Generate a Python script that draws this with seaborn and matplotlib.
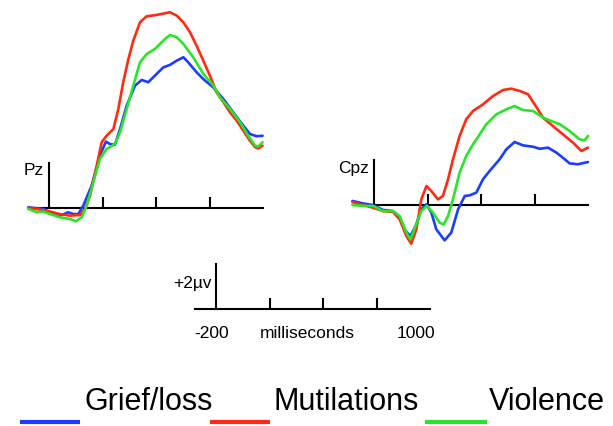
import numpy as np
import pandas as pd
import matplotlib
matplotlib.use("Agg")
import matplotlib.pyplot as plt
import seaborn as sns
from matplotlib.lines import Line2D

# ---------------- data ----------------
conditions = ["Grief/loss", "Mutilations", "Violence"]
colors = ["#1c3cff", "#ff2a10", "#2ae42a"]

# Pz (time in ms, amplitude in microvolts)
pz_grief_t = [-97, -26, 20, 51, 90, 114, 137, 160, 199, 238, 266, 285, 308, 332, 363, 402, 433, 464, 503, 534, 565, 597, 628, 651, 690, 721, 768, 815, 861, 908, 939, 970, 998]
pz_grief_v = [0.03, -0.04, -0.27, -0.34, -0.19, -0.27, -0.27, 0.10, 0.99, 2.33, 2.95, 2.84, 2.81, 3.51, 4.55, 5.44, 5.69, 5.59, 5.96, 6.25, 6.36, 6.55, 6.70, 6.47, 6.03, 5.73, 5.36, 4.84, 4.25, 3.66, 3.29, 3.19, 3.21]
pz_mutil_t = [-97, -42, 5, 51, 98, 145, 168, 192, 223, 246, 269, 301, 324, 347, 371, 394, 425, 456, 503, 534, 565, 597, 628, 659, 690, 721, 752, 783, 815, 846, 877, 908, 939, 963, 978, 998]
pz_mutil_v = [0.0, -0.07, -0.16, -0.27, -0.34, -0.31, -0.04, 0.55, 1.88, 2.92, 3.21, 3.51, 4.40, 5.59, 6.62, 7.44, 8.25, 8.52, 8.58, 8.64, 8.70, 8.55, 8.25, 7.81, 7.21, 6.55, 5.88, 5.14, 4.70, 4.25, 3.88, 3.44, 2.99, 2.70, 2.65, 2.77]
pz_viol_t = [-97, -58, -26, 5, 51, 98, 126, 153, 176, 207, 238, 269, 308, 332, 363, 394, 425, 456, 495, 534, 565, 597, 628, 674, 721, 768, 799, 846, 893, 931, 963, 978, 998]
pz_viol_v = [-0.04, -0.19, -0.16, -0.27, -0.41, -0.49, -0.59, -0.41, 0.10, 1.14, 2.18, 2.62, 2.84, 3.36, 4.40, 5.44, 6.47, 6.84, 7.07, 7.44, 7.69, 7.59, 7.29, 6.70, 5.96, 5.44, 4.92, 4.40, 3.81, 3.21, 2.77, 2.73, 2.92]

# Cpz
cpz_grief_t = [-101, -51, -5, 42, 89, 120, 148, 170, 195, 221, 245, 268, 291, 330, 361, 393, 424, 447, 478, 509, 540, 587, 618, 657, 696, 743, 774, 813, 852, 883, 914, 953, 1000]
cpz_grief_v = [0.18, 0.07, 0.0, -0.22, -0.27, -0.56, -1.16, -1.38, -0.93, -0.19, 0.03, -0.34, -1.08, -1.57, -1.23, -0.19, 0.40, 0.43, 0.55, 1.14, 1.51, 2.03, 2.47, 2.80, 2.65, 2.59, 2.50, 2.55, 2.33, 2.10, 1.85, 1.81, 1.91]
cpz_mutil_t = [-101, -51, -5, 42, 89, 120, 151, 174, 198, 221, 245, 268, 299, 322, 346, 369, 400, 431, 463, 509, 556, 603, 642, 681, 720, 751, 790, 836, 883, 930, 969, 1000]
cpz_mutil_v = [0.13, 0.0, -0.12, -0.27, -0.31, -0.64, -1.38, -1.72, -1.08, 0.25, 0.84, 0.62, 0.25, 0.40, 1.14, 2.03, 3.07, 3.81, 4.18, 4.47, 4.84, 5.11, 5.17, 5.07, 4.92, 4.47, 3.88, 3.51, 3.14, 2.77, 2.40, 2.55]
cpz_viol_t = [-101, -51, -5, 42, 89, 120, 151, 170, 195, 221, 248, 276, 307, 326, 346, 369, 400, 431, 463, 494, 525, 572, 618, 657, 696, 743, 790, 829, 868, 914, 961, 984, 1000]
cpz_viol_v = [0.0, -0.04, -0.04, -0.27, -0.27, -0.49, -1.23, -1.53, -0.93, -0.27, -0.04, -0.34, -0.79, -0.86, -0.49, 0.25, 1.44, 2.18, 2.70, 3.14, 3.59, 4.03, 4.25, 4.40, 4.22, 4.18, 3.88, 3.73, 3.59, 3.29, 2.92, 2.87, 3.07]

panel_labels = ["Pz", "Cpz"]
scale_amp_label = "+2\u00b5v"
time_labels = ["-200", "milliseconds", "1000"]
tick_times = [250, 500, 750]


def long_df(series):
    rows = []
    for cond, (t, v) in zip(conditions, series):
        for ti, vi in zip(t, v):
            rows.append((ti, vi, cond))
    return pd.DataFrame(rows, columns=["time", "amp", "condition"])


pz_df = long_df([(pz_grief_t, pz_grief_v), (pz_mutil_t, pz_mutil_v), (pz_viol_t, pz_viol_v)])
cpz_df = long_df([(cpz_grief_t, cpz_grief_v), (cpz_mutil_t, cpz_mutil_v), (cpz_viol_t, cpz_viol_v)])

# ---------------- style ----------------
sns.set_style("white")
plt.rcParams["font.family"] = ["Liberation Sans", "DejaVu Sans"]
plt.rcParams["text.color"] = "black"

W, H = 613, 427
fig = plt.figure(figsize=(W / 100, H / 100), dpi=100)
fig.patch.set_facecolor("white")

SX = 53.5 / 250.0   # px per ms
SY = 22.5           # px per microvolt
XLIM = (-100, 1000)


def place(ox, oy, ylim):
    left = ox + XLIM[0] * SX
    width = (XLIM[1] - XLIM[0]) * SX
    ybot = oy - ylim[0] * SY
    height = (ylim[1] - ylim[0]) * SY
    ax = fig.add_axes([left / W, (H - ybot) / H, width / W, height / H])
    ax.set_xlim(*XLIM)
    ax.set_ylim(*ylim)
    ax.patch.set_visible(False)
    for s in ["top", "right"]:
        ax.spines[s].set_visible(False)
    for s in ["left", "bottom"]:
        ax.spines[s].set_position(("data", 0))
        ax.spines[s].set_linewidth(1.5)
        ax.spines[s].set_color("black")
    ax.spines["left"].set_bounds(0, 2)
    ax.spines["bottom"].set_bounds(*XLIM)
    ax.set_xticks(tick_times)
    ax.set_xticklabels([])
    ax.set_yticks([])
    ax.tick_params(axis="x", direction="in", length=8, width=1.5, color="black", bottom=True)
    ax.set_xlabel("")
    ax.set_ylabel("")
    return ax


def ftext(x, y, s, **kw):
    fig.text(x / W, 1 - y / H, s, color="black", **kw)


palette = dict(zip(conditions, colors))

ax_pz = place(49, 209, (-1.0, 9.2))
sns.lineplot(data=pz_df, x="time", y="amp", hue="condition", hue_order=conditions,
             palette=palette, estimator=None, sort=False, legend=False,
             linewidth=1.9, ax=ax_pz, zorder=3)
ax_pz.set_xlabel(""); ax_pz.set_ylabel("")

ax_cpz = place(374, 206, (-2.0, 5.6))
sns.lineplot(data=cpz_df, x="time", y="amp", hue="condition", hue_order=conditions,
             palette=palette, estimator=None, sort=False, legend=False,
             linewidth=1.9, ax=ax_cpz, zorder=3)
ax_cpz.set_xlabel(""); ax_cpz.set_ylabel("")

ax_sc = place(216, 310, (-0.5, 2.2))

for a in (ax_pz, ax_cpz):
    for ln in a.get_lines():
        ln.set_clip_on(False)
        ln.set_solid_joinstyle("round")

# panel labels
ftext(44, 175, panel_labels[0], ha="right", va="baseline", fontsize=12.5)
ftext(369, 173, panel_labels[1], ha="right", va="baseline", fontsize=12.5)

# scale bar labels
ftext(212, 288, scale_amp_label, ha="right", va="baseline", fontsize=12.5)
ftext(194, 338, time_labels[0], ha="left", va="baseline", fontsize=12.5)
ftext(307, 338, time_labels[1], ha="center", va="baseline", fontsize=12.5)
ftext(416, 338, time_labels[2], ha="center", va="baseline", fontsize=12.5)

# legend (line below-left of each label)
leg_line_x = [(20, 80), (210, 270), (425, 487)]
leg_text_x = [84, 273, 489]
for (x0, x1), tx, cond, col in zip(leg_line_x, leg_text_x, conditions, colors):
    fig.add_artist(Line2D([x0 / W, x1 / W], [1 - 423 / H, 1 - 423 / H],
                          color=col, linewidth=3, solid_capstyle="butt"))
    ftext(tx, 410, cond, ha="left", va="baseline", fontsize=22)

fig.savefig("out.png", dpi=100, facecolor="white")
